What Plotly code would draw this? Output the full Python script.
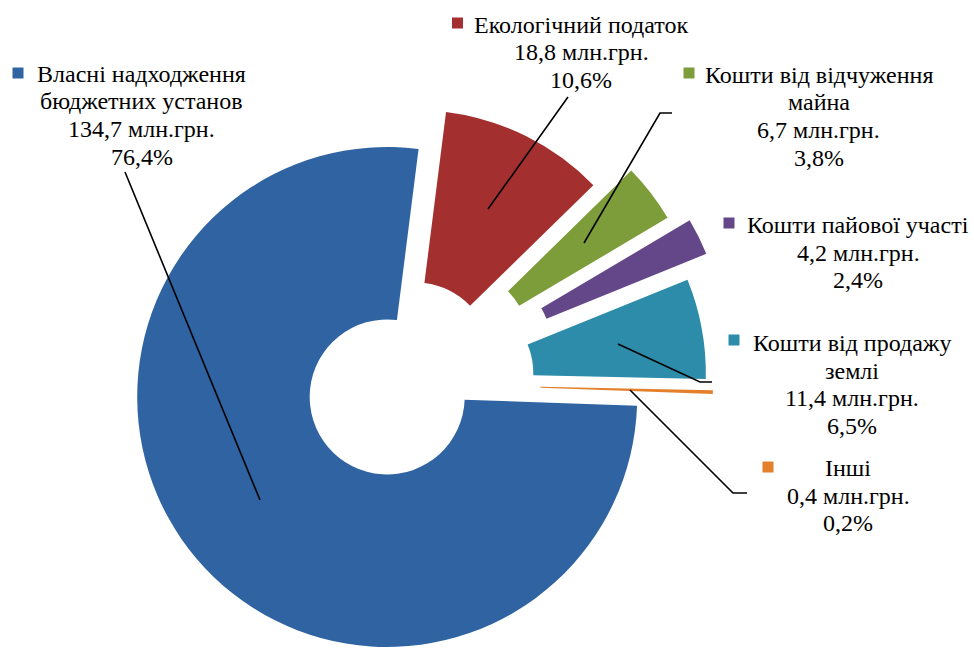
import numpy as np
import plotly.graph_objects as go

# ---- data ----
names = [["Власні надходження", "бюджетних установ"], ["Екологічний податок"],
         ["Кошти від відчуження", "майна"], ["Кошти пайової участі"],
         ["Кошти від продажу", "землі"], ["Інші"]]
values = [134.7, 18.8, 6.7, 4.2, 11.4, 0.4]
percents = ["76,4%", "10,6%", "3,8%", "2,4%", "6,5%", "0,2%"]
colors = ["#2F63A2", "#A3302E", "#7D9D3A", "#634789", "#2C8CA9", "#E4802C"]
explode = [0.083, 0.105, 0.25, 0.32, 0.215, 0.24]   # fraction of radius

W, H = 974, 648
CX, CY = 403.0, 383.5
R = 250.0
HOLE = 0.31
ROT = 92.0
FONT = dict(family="Liberation Serif, Times New Roman, serif", size=24, color="#000000")
LINE_H = 27.5

def px(x):
    return x / W

def py(y):
    return 1 - y / H

fig = go.Figure()
total = sum(values)
start = ROT
for i, v in enumerate(values):
    span = 360.0 * v / total
    mid = np.deg2rad(start + span / 2)
    start += span
    sx = CX + explode[i] * R * np.sin(mid)
    sy = CY - explode[i] * R * np.cos(mid)
    dom_x = [max(0, px(sx - R)), min(1, px(sx + R))]
    dom_y = [max(0, py(sy + R)), min(1, py(sy - R))]
    cols = ["rgba(0,0,0,0)"] * len(values)
    cols[i] = colors[i]
    fig.add_trace(go.Pie(
        labels=[" ".join(n) for n in names], values=values,
        sort=False, direction="clockwise", rotation=ROT, hole=HOLE,
        marker=dict(colors=cols, line=dict(width=0)),
        textinfo="none", hoverinfo="label+value+percent",
        domain=dict(x=dom_x, y=dom_y), showlegend=False,
    ))

# label block: centre x, centre y of first line
label_pos = [(141.5, 74), (581, 25), (818.5, 75), (858, 225), (852, 343), (848, 468)]
key_pos = [(18, 73), (457.5, 23), (689, 73), (729, 223), (734, 340), (768, 467)]
KEY = 11
annotations = []
shapes = []
for i in range(len(values)):
    amount = f"{values[i]:.1f}".replace(".", ",") + " млн.грн."
    lines = names[i] + [amount, percents[i]]
    x, y0 = label_pos[i]
    for k, line in enumerate(lines):
        annotations.append(dict(
            x=px(x), y=py(y0 + k * LINE_H), xref="paper", yref="paper", text=line,
            showarrow=False, xanchor="center", yanchor="middle", align="center",
            font=FONT,
        ))
    kx, ky = key_pos[i]
    shapes.append(dict(
        type="rect", xref="paper", yref="paper",
        x0=px(kx - KEY / 2), x1=px(kx + KEY / 2),
        y0=py(ky + KEY / 2), y1=py(ky - KEY / 2),
        fillcolor=colors[i], line=dict(width=0),
    ))

leaders = [
    [(125, 172), (260, 500)],
    [(568, 97), (488, 209)],
    [(672, 113), (660, 113), (584, 243)],
    [(618, 344), (700, 382), (712, 382)],
    [(630, 390), (733, 493), (747, 493)],
]
for pts in leaders:
    path = "M " + " L ".join(f"{px(a):.5f},{py(b):.5f}" for a, b in pts)
    shapes.append(dict(type="path", xref="paper", yref="paper", path=path,
                       line=dict(color="#000000", width=1.6)))

fig.update_layout(
    width=W, height=H, autosize=False,
    margin=dict(l=0, r=0, t=0, b=0),
    paper_bgcolor="#FFFFFF", plot_bgcolor="#FFFFFF",
    annotations=annotations, shapes=shapes,
)

fig.write_html("out.html")
